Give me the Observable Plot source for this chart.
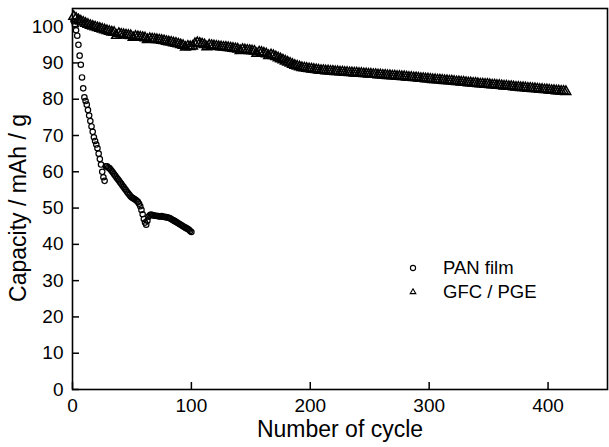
<!DOCTYPE html>
<html><head><meta charset="utf-8">
<script src="https://cdn.jsdelivr.net/npm/d3@7"></script>
<script src="https://cdn.jsdelivr.net/npm/@observablehq/plot@0.6"></script>
<style>
body{margin:0;background:#fff;}
#wrap{position:relative;width:609px;height:447px;font-family:"Liberation Sans",Arial,Helvetica,sans-serif;color:#000;}
.leg{position:absolute;left:405px;font-size:18.5px;display:flex;align-items:center;height:20px;}
.leg svg{width:16px;height:16px;margin-right:22px;}
</style></head><body><div id="wrap"></div>
<script>
// PAN film, cycles 1..100
const panValues = [
 101.5,100.5,99,97.5,95,92,89.5,86,83,80.5,
 79.5,78.5,77,75.5,74,72.5,71,69.5,68.5,67.5,
 66.5,65,63.5,62,60,58.5,57.5,61.5,61.5,61.2,
 61,60.6,60.2,59.8,59.3,58.9,58.4,58,57.6,57.1,
 56.7,56.2,55.8,55.3,54.9,54.4,54,53.6,53.2,52.9,
 52.7,52.5,52.3,52,51.7,51.2,50.5,49.5,48.3,47,
 46,45.4,46.5,47.6,48,48.2,48.1,48,47.9,47.9,
 47.8,47.8,47.7,47.7,47.8,47.6,47.6,47.5,47.5,47.4,
 47.3,47.2,47.0,46.8,46.6,46.4,46.2,46.0,45.8,45.6,
 45.4,45.2,45.0,44.8,44.6,44.4,44.2,44.0,43.7,43.4
];
// GFC / PGE, every 2nd cycle from 1 to 415
const gfcStep = 2;
const gfcValues = [
 102.8,102.3,101.9,101.5,101.2,100.9,100.6,100.3,100.1,99.9,99.7,99.5,99.3,99.1,98.9,98.7,98.5,98.4,97.6,98.1,97.9,
 97.8,97.7,97.6,97.5,97.0,97.3,97.2,97.1,97.0,96.9,96.4,96.7,96.6,96.5,96.4,96.3,96.2,96.1,95.9,95.8,
 95.7,95.5,95.4,95.2,95.0,94.8,94.3,94.6,94.5,94.6,95.3,95.6,95.4,95.2,95.0,94.4,94.9,94.8,94.7,94.6,
 94.5,94.4,94.3,94.3,94.2,94.1,94.0,93.9,93.8,93.4,93.7,93.6,93.5,93.4,93.3,93.2,92.6,93.0,92.9,92.7,
 92.5,92.0,92.2,92.0,91.7,91.4,91.1,90.8,90.5,90.2,89.9,89.6,89.3,89.1,88.9,88.7,88.6,88.5,88.4,88.3,
 88.2,88.1,88.0,87.9,87.9,87.8,87.8,87.7,87.7,87.6,87.6,87.5,87.5,87.4,87.4,87.3,87.3,87.2,87.2,87.1,
 87.1,87.0,87.0,86.9,86.9,86.8,86.8,86.7,86.7,86.6,86.6,86.5,86.5,86.4,86.4,86.3,86.3,86.2,86.2,86.1,
 86.0,86.0,85.9,85.9,85.8,85.7,85.7,85.6,85.6,85.5,85.4,85.4,85.3,85.3,85.2,85.1,85.1,85.0,85.0,84.9,
 84.8,84.8,84.7,84.7,84.6,84.5,84.5,84.4,84.4,84.3,84.2,84.2,84.1,84.1,84.0,83.9,83.9,83.8,83.8,83.7,
 83.6,83.6,83.5,83.5,83.4,83.3,83.3,83.2,83.2,83.1,83.0,83.0,82.9,82.9,82.8,82.7,82.7,82.6,82.6,82.5,
 82.4,82.4,82.3,82.3,82.2,82.2,82.1
];
const xTicks = [0,100,200,300,400];
const yTicks = [0,10,20,30,40,50,60,70,80,90,100];
const xTitle = "Number of cycle";
const yTitle = "Capacity / mAh / g";
const seriesNames = ["PAN film","GFC / PGE"];

const pan = panValues.map((v,i)=>({cycle:i+1,cap:v}));
const gfc = gfcValues.map((v,i)=>({cycle:1+i*gfcStep,cap:v}));

const font = "'Liberation Sans',Arial,Helvetica,sans-serif";
const chart = Plot.plot({
  width:609, height:447,
  marginLeft:72, marginRight:2, marginTop:8, marginBottom:58,
  style:{fontFamily:font, fontSize:"18px", color:"#000", background:"#fff", overflow:"visible"},
  x:{domain:[0,450]},
  y:{domain:[0,105]},
  marks:[
    Plot.dot(gfc,{x:"cycle",y:"cap",symbol:"triangle",r:3.6,stroke:"#000",strokeWidth:1.5,fill:"none"}),
    Plot.dot(pan,{x:"cycle",y:"cap",symbol:"circle",r:2.7,stroke:"#000",strokeWidth:1.2,fill:"none"}),
    Plot.frame({stroke:"#000",strokeWidth:1.6}),
    Plot.axisX({ticks:xTicks,tickSize:0,tickPadding:9,fontSize:19,label:null}),
    Plot.axisX({ticks:xTicks,tickSize:-7,tickFormat:()=>"",strokeWidth:1.5,label:null}),
    Plot.axisY({ticks:yTicks,tickSize:0,tickPadding:9,fontSize:19,label:null}),
    Plot.axisY({ticks:yTicks,tickSize:-7,tickFormat:()=>"",strokeWidth:1.5,label:null}),
    Plot.text([xTitle],{frameAnchor:"bottom",dy:47,fontSize:23,text:d=>d}),
    Plot.text([yTitle],{frameAnchor:"left",textAnchor:"middle",rotate:-90,dx:-54,dy:9,fontSize:23,text:d=>d})
  ]
});
const wrap = document.getElementById("wrap");
wrap.appendChild(chart);
const syms = [
  '<svg viewBox="-8 -8 16 16"><circle r="2.6" fill="none" stroke="#000" stroke-width="1.1"/></svg>',
  '<svg viewBox="-8 -8 16 16"><path d="M0,-3.2L2.8,1.6L-2.8,1.6Z" fill="none" stroke="#000" stroke-width="1.1"/></svg>'
];
seriesNames.forEach((n,i)=>{
  const d = document.createElement("div");
  d.className = "leg";
  d.style.top = (258 + i*24) + "px";
  d.innerHTML = syms[i] + "<span>" + n + "</span>";
  wrap.appendChild(d);
});
</script></body></html>
